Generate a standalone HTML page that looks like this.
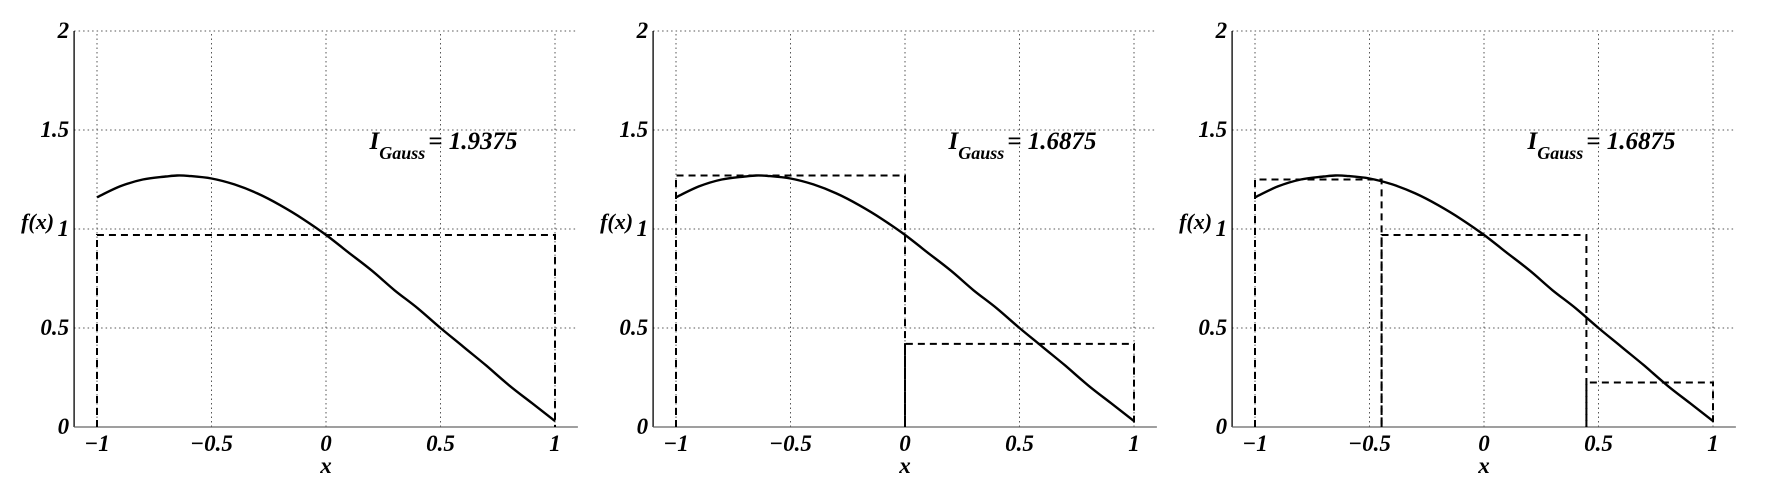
<!DOCTYPE html>
<html><head><meta charset="utf-8">
<style>
html,body{margin:0;padding:0;background:#fff;}
svg{display:block;}
text{font-family:"Liberation Serif",serif;font-weight:bold;font-style:italic;fill:#000;}
</style></head>
<body>
<svg id="chart" width="1770" height="486" viewBox="0 0 1770 486" xmlns="http://www.w3.org/2000/svg"></svg>
<script>
const curveX = [-1,-0.9,-0.8,-0.7,-0.65,-0.6,-0.5,-0.4,-0.3,-0.2,-0.1,0,0.1,0.2,0.3,0.4,0.5,0.6,0.7,0.8,0.9,1];
const curveY = [1.16,1.215,1.25,1.265,1.27,1.268,1.255,1.225,1.18,1.12,1.05,0.97,0.88,0.79,0.69,0.60,0.50,0.405,0.31,0.21,0.12,0.03];
const xTicks = [-1,-0.5,0,0.5,1];
const xTickLabels = ["\u22121","\u22120.5","0","0.5","1"];
const yTicks = [0,0.5,1,1.5,2];
const yTickLabels = ["0","0.5","1","1.5","2"];
const panel1Edges = [-1,1];
const panel1Heights = [0.97];
const panel2Edges = [-1,0,1];
const panel2Heights = [1.27,0.42];
const panel3Edges = [-1,-0.4472,0.4472,1];
const panel3Heights = [1.25,0.97,0.225];
const integrals = ["1.9375","1.6875","1.6875"];

const svg = document.getElementById('chart');
const NS = 'http://www.w3.org/2000/svg';
function mk(tag, attrs, parent){const e=document.createElementNS(NS,tag);for(const k in attrs)e.setAttribute(k,attrs[k]);(parent||svg).appendChild(e);return e;}

const panels = [
  {x0:97, edges:panel1Edges, heights:panel1Heights},
  {x0:676, edges:panel2Edges, heights:panel2Heights},
  {x0:1255, edges:panel3Edges, heights:panel3Heights}
];
const unitX = 229, yBase = 427, unitY = 198;

function smoothPath(pts){
  let d = 'M' + pts[0][0].toFixed(1) + ',' + pts[0][1].toFixed(1);
  for (let k = 0; k < pts.length - 1; k++) {
    const p0 = pts[Math.max(k-1,0)], p1 = pts[k], p2 = pts[k+1], p3 = pts[Math.min(k+2,pts.length-1)];
    const c1x = p1[0] + (p2[0]-p0[0])/6, c1y = p1[1] + (p2[1]-p0[1])/6;
    const c2x = p2[0] - (p3[0]-p1[0])/6, c2y = p2[1] - (p3[1]-p1[1])/6;
    d += ` C${c1x.toFixed(1)},${c1y.toFixed(1)} ${c2x.toFixed(1)},${c2y.toFixed(1)} ${p2[0].toFixed(1)},${p2[1].toFixed(1)}`;
  }
  return d;
}

panels.forEach((p, i) => {
  const g = mk('g', {});
  
  
  const sx = v => p.x0 + (v + 1) * unitX;
  const sy = v => yBase - v * unitY;
  const left = sx(-1.1), right = sx(1.1);
  xTicks.forEach(t => {
    const l = mk('line', {x1:sx(t), x2:sx(t), y1:sy(0), y2:sy(2), stroke:'#555', 'stroke-width':1, 'stroke-dasharray':'1.5,3'}, g);
    
    
  });
  yTicks.forEach(t => {
    if (t === 0) return;
    const l = mk('line', {x1:left, x2:right, y1:sy(t), y2:sy(t), stroke:'#555', 'stroke-width':1, 'stroke-dasharray':'1.5,3'}, g);
    
    
  });
  const ax = mk('line', {x1:left, x2:left, y1:sy(2), y2:sy(0), stroke:'#000', 'stroke-width':1.3}, g);
  
  
  const bx = mk('line', {x1:left, x2:right, y1:sy(0), y2:sy(0), stroke:'#666', 'stroke-width':1.3}, g);
  
  
  xTicks.forEach((t, k) => {
    const tx = mk('text', {x:sx(t), y:451, 'font-size':23, 'text-anchor':'middle'}, g);
    tx.textContent = xTickLabels[k];
    
    
  });
  yTicks.forEach((t, k) => {
    const tx = mk('text', {x:left - 5, y:sy(t) + 7, 'font-size':23, 'text-anchor':'end'}, g);
    tx.textContent = yTickLabels[k];
    
    
  });
  const xl = mk('text', {x:sx(0), y:473, 'font-size':23, 'text-anchor':'middle'}, g);
  xl.textContent = 'x';
  
  
  const yl = mk('text', {x:left - 20, y:229, 'font-size':22, 'text-anchor':'end'}, g);
  yl.textContent = 'f(x)';
  
  
  p.heights.forEach((h, k) => {
    const a = sx(p.edges[k]), b = sx(p.edges[k+1]), y = sy(h);
    const r = mk('path', {d:`M${a},${sy(0)} L${a},${y} L${b},${y} L${b},${sy(0)}`, fill:'none', stroke:'#000', 'stroke-width':2, 'stroke-dasharray':'7,5'}, g);
    
    
  });
  const pts = curveX.map((x, k) => [sx(x), sy(curveY[k])]);
  const c = mk('path', {d:smoothPath(pts), fill:'none', stroke:'#000', 'stroke-width':2.4, 'stroke-linejoin':'round'}, g);
  
  
  const an = mk('text', {x:sx(0.19), y:149, 'font-size':25}, g);
  
  
  const t1 = mk('tspan', {}, an); t1.textContent = 'I';
  const t2 = mk('tspan', {dy:10, 'font-size':18}, an); t2.textContent = 'Gauss';
  const t3 = mk('tspan', {dy:-10, dx:3}, an); t3.textContent = '= ' + integrals[i];
});
</script>
</body></html>
